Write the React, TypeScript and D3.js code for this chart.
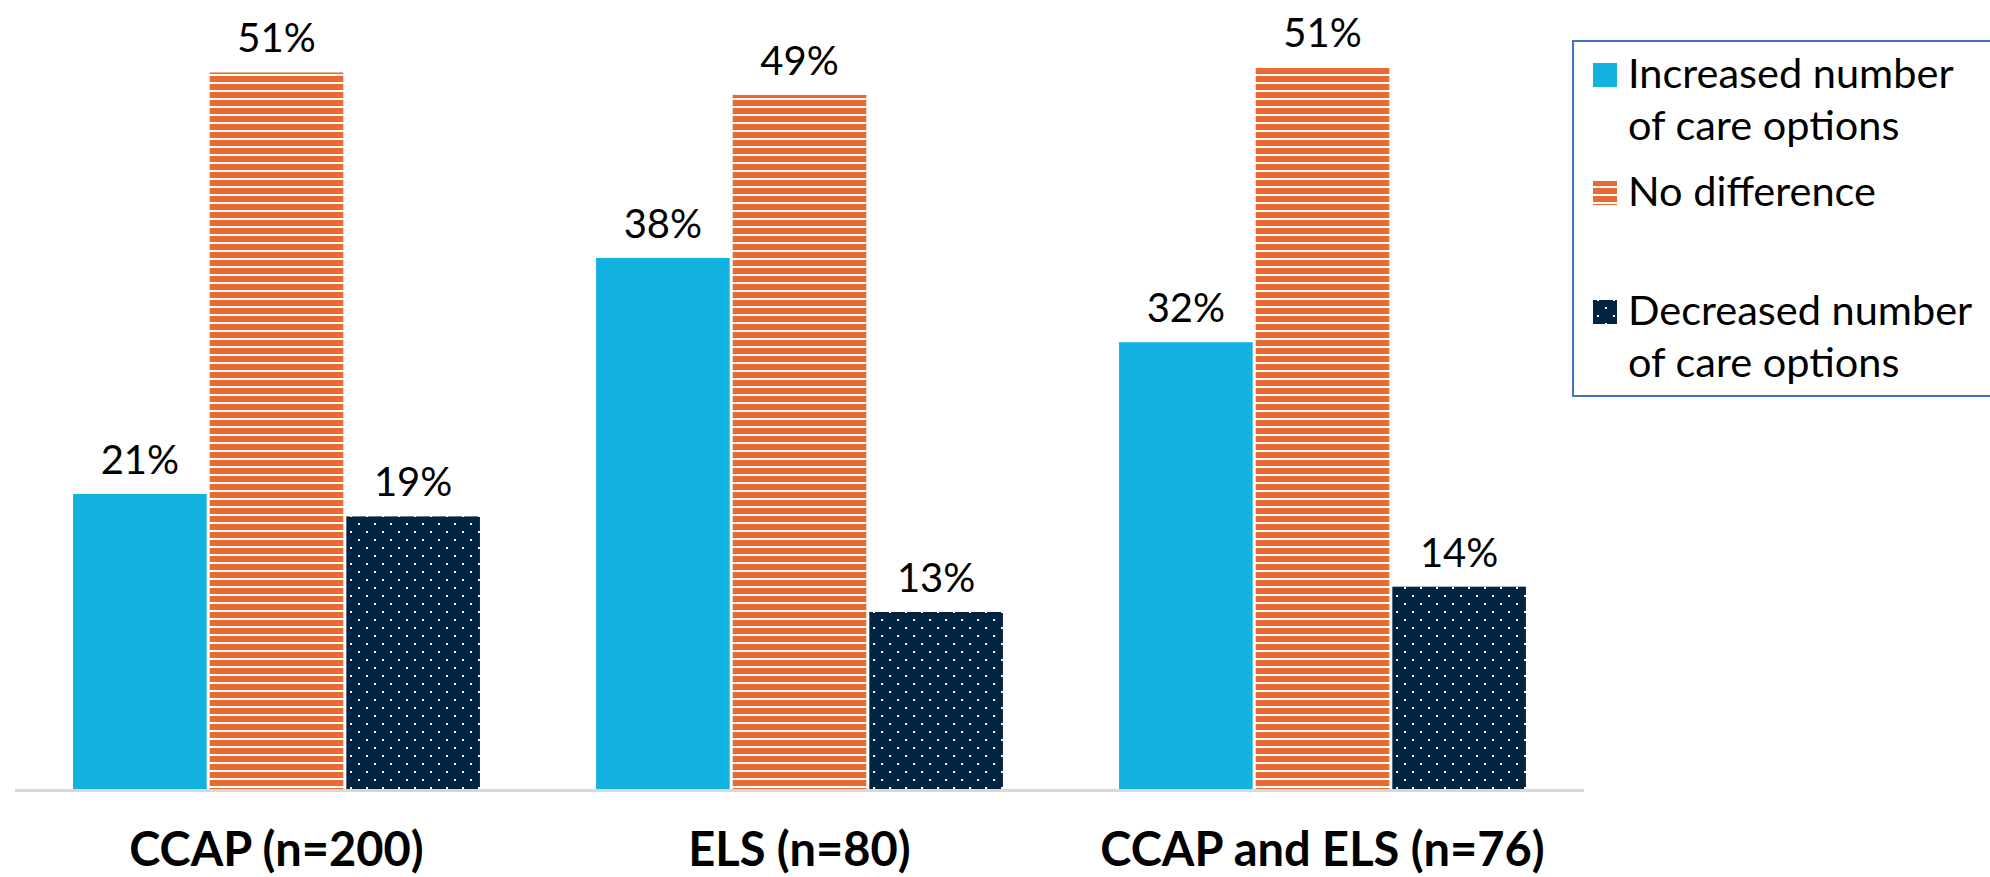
import React from "react";
import * as d3 from "d3";

// 資料
const groups = ["CCAP (n=200)", "ELS (n=80)", "CCAP and ELS (n=76)"];
const seriesNames = ["Increased number of care options", "No difference", "Decreased number of care options"];
const increased = [0.21, 0.378, 0.318];
const noDifference = [0.51, 0.494, 0.514];
const decreased = [0.194, 0.126, 0.144];
const legendLines = [["Increased number", "of care options"], ["No difference"], ["Decreased number", "of care options"]];

const W = 1990;
const H = 877;
const FONT = "Lato, 'Open Sans', sans-serif";

const fills = ["#12b2e0", "url(#stripes)", "url(#dots)"];
const seriesValues = [increased, noDifference, decreased];

export default function App() {
    const baseline = 789;
    const x0 = d3.scaleBand<string>().domain(groups).range([15, 1584]).paddingInner(0.222).paddingOuter(0.111);
    const x1 = d3.scaleBand<string>().domain(seriesNames).range([0, x0.bandwidth()]).paddingInner(0.022);
    const y = d3.scaleLinear().domain([0, 0.56]).range([baseline, baseline - 0.56 * 1405]);
    const pct = d3.format(".0%");

    // 圖例位置
    const legendY = [88, 206, 325];

    return (
        <svg width={W} height={H} style={{ position: "absolute", left: 0, top: 0, background: "#fff" }}>
            <defs>
                <pattern id="stripes" patternUnits="userSpaceOnUse" width={8} height={8} y={4}>
                    <rect width={8} height={8} fill="#fff" />
                    <rect width={8} height={6} fill="#e96a32" />
                </pattern>
                <pattern id="dots" patternUnits="userSpaceOnUse" width={16} height={16} x={13} y={11}>
                    <rect width={16} height={16} fill="#002442" />
                    <rect x={0} y={0} width={2} height={2} fill="#fff" />
                    <rect x={8} y={8} width={2} height={2} fill="#fff" />
                </pattern>
            </defs>

            {/* 長條 */}
            {groups.map((g, gi) => (
                <g key={g} transform={`translate(${x0(g)},0)`}>
                    {seriesNames.map((s, si) => {
                        const v = seriesValues[si][gi];
                        const bx = x1(s)!;
                        return (
                            <g key={s}>
                                <rect x={bx} y={y(v)} width={x1.bandwidth()} height={baseline - y(v)} fill={fills[si]} />
                                <text x={bx + x1.bandwidth() / 2} y={y(v) - 20} textAnchor="middle"
                                    fontFamily={FONT} fontSize={40} fill="#000">{pct(v)}</text>
                            </g>
                        );
                    })}
                    <text x={x0.bandwidth() / 2} y={866} textAnchor="middle" fontFamily={FONT}
                        fontWeight="bold" fontSize={47} fill="#000">{g}</text>
                </g>
            ))}

            {/* 基線 */}
            <line x1={15} x2={1584} y1={baseline + 1.5} y2={baseline + 1.5} stroke="#d9d9d9" strokeWidth={3} />

            {/* 圖例 */}
            <rect x={1573} y={41} width={500} height={355} fill="none" stroke="#4472c4" strokeWidth={2} />
            {seriesNames.map((s, i) => (
                <g key={s}>
                    <rect x={1593} y={legendY[i] - 25} width={24} height={24} fill={fills[i]} />
                    <text x={1628} y={legendY[i]} fontFamily={FONT} fontSize={41.5} fill="#000">
                        {legendLines[i].map((line, li) => (
                            <tspan key={li} x={1628} dy={li === 0 ? 0 : 52}>{line}</tspan>
                        ))}
                    </text>
                </g>
            ))}
        </svg>
    );
}
